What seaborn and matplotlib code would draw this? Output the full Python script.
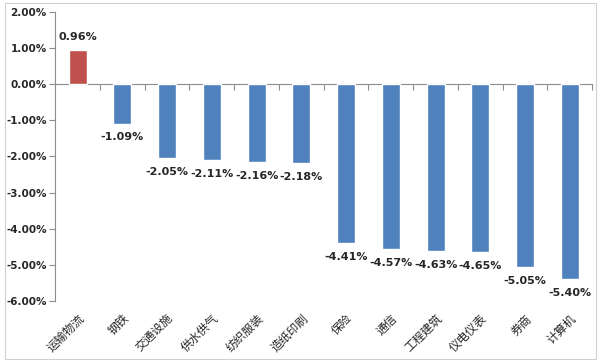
import matplotlib
matplotlib.use("Agg")
import matplotlib.pyplot as plt
import numpy as np
import seaborn as sns
from matplotlib.patches import Rectangle
from matplotlib.ticker import FuncFormatter

sns.set_style("white")
plt.rcParams["font.family"] = ["Noto Sans CJK SC", "DejaVu Sans"]
plt.rcParams["axes.unicode_minus"] = False

sectors = ["运输物流", "钢铁", "交通设施", "供水供气", "纺织服装", "造纸印刷",
           "保险", "通信", "工程建筑", "仪电仪表", "券商", "计算机"]
change = [0.96, -1.09, -2.05, -2.11, -2.16, -2.18,
          -4.41, -4.57, -4.63, -4.65, -5.05, -5.40]

RED, BLUE, AXIS = "#C0504D", "#4F81BD", "#8C8C8C"
colors = [RED if v > 0 else BLUE for v in change]

fig = plt.figure(figsize=(6, 3.63), dpi=100)
ax = fig.add_axes([0.092, 0.171, 0.895, 0.796])

sns.barplot(x=sectors, y=change, hue=sectors, palette=colors, legend=False,
            width=0.4, saturation=1, ax=ax)

ax.set_ylim(-6, 2)
ax.set_xlim(-0.5, len(sectors) - 0.5)
ax.set_yticks(np.arange(-6, 2.1, 1))
ax.yaxis.set_major_formatter(FuncFormatter(lambda v, _: f"{v:.2f}%"))
for lab in ax.get_yticklabels():
    lab.set_fontweight("bold")
    lab.set_fontsize(7.5)
    lab.set_family("DejaVu Sans")
ax.tick_params(axis="y", length=4, color=AXIS, direction="out", left=True, pad=2)

# category labels under the plot, rotated
ax.set_xticks(range(len(sectors)))
ax.set_xticklabels(sectors, rotation=45, ha="right", rotation_mode="anchor",
                   fontsize=8.5)
ax.tick_params(axis="x", length=0, pad=8)

for s in ["top", "right", "bottom"]:
    ax.spines[s].set_visible(False)
ax.spines["left"].set_color(AXIS)

# zero line with boundary ticks pointing down
zero = ax.secondary_xaxis(6 / 8)
zero.spines["top"].set_color(AXIS)
zero.spines["bottom"].set_color(AXIS)
zero.set_xticks(np.arange(0.5, len(sectors), 1))
zero.set_xticklabels([])
zero.tick_params(length=4, color=AXIS, direction="in")

for i, v in enumerate(change):
    off = 9 if v > 0 else -10
    ax.annotate(f"{v:.2f}%", (i, v), xytext=(0, off), textcoords="offset points",
                ha="center", va="center", fontsize=8, fontweight="bold",
                family="DejaVu Sans")

ax.set_xlabel("")
ax.set_ylabel("")

fig.patches.append(Rectangle((0.008, 0.01), 0.985, 0.983, transform=fig.transFigure,
                             fill=False, edgecolor="#D0D0D0", lw=0.8))

fig.savefig("out.png", dpi=100)
